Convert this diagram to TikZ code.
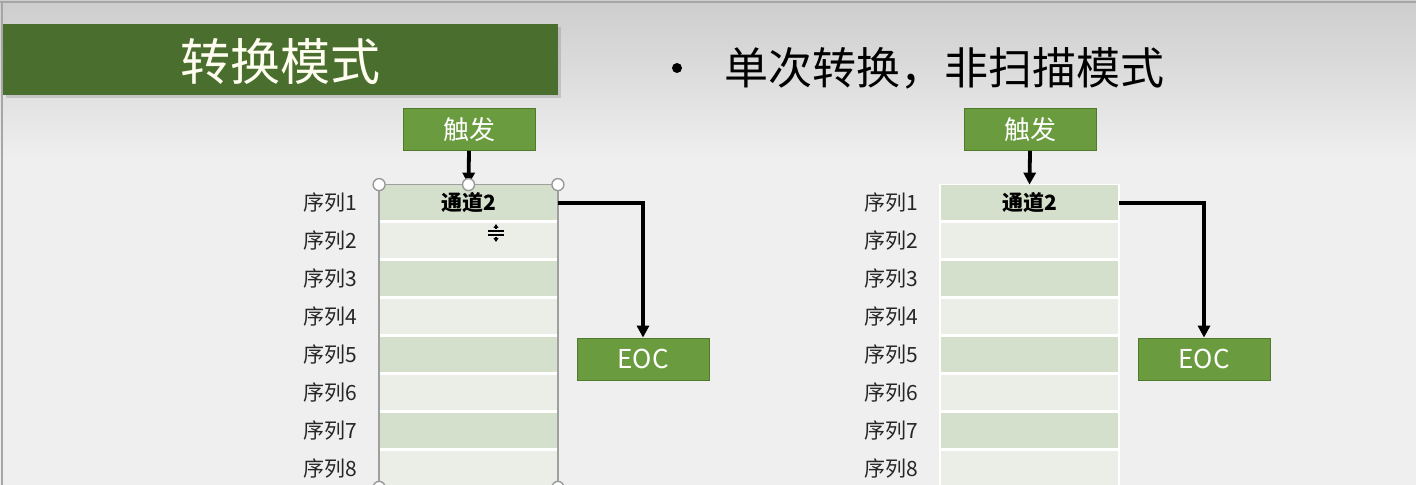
\documentclass[tikz,border=0pt]{standalone}
\usepackage{fontspec}
\setmainfont{Noto Sans CJK SC}
\usetikzlibrary{positioning,arrows.meta,shadows}

\definecolor{titlegreen}{HTML}{4A6E2E}
\definecolor{boxgreen}{HTML}{6A9B3F}
\definecolor{boxedge}{HTML}{4F7A2C}
\definecolor{rowdark}{HTML}{D4DFCC}
\definecolor{rowlight}{HTML}{EAEEE7}
\definecolor{bggray}{HTML}{EFEFEF}
\definecolor{topgray}{HTML}{CDCDCD}

\tikzset{
  greenbox/.style={draw=boxedge, fill=boxgreen, text=white, minimum width=66pt,
    minimum height=21pt, inner sep=0pt, font=\fontsize{13}{13}\selectfont},
  rowcell/.style={minimum width=89pt, minimum height=18pt, inner sep=0pt},
  seqlabel/.style={inner sep=0pt, text=black!85, font=\fontsize{10.5}{10.5}\selectfont},
  flowarrow/.style={line width=1.9pt, -{Triangle[length=6pt,width=6pt]}},
  handle/.style={draw=gray!80, fill=white, line width=0.7pt}
}

\begin{document}
\begin{tikzpicture}[x=0.5pt, y=-0.5pt]

    % Background
    \useasboundingbox (0,0) rectangle (1416,485);
    \clip (0,0) rectangle (1416,485);
    \fill[bggray] (0,0) rectangle (1416,485);
    \shade[top color=topgray, bottom color=bggray] (0,0) rectangle (1416,160);
    \draw[gray!70, line width=1pt] (0,2) -- (1416,2);
    \draw[gray!70, line width=1pt] (2,2) -- (2,485);

    % Title
    \node[fill=titlegreen, minimum width=277.5pt, minimum height=35.5pt, inner sep=0pt,
      drop shadow={shadow xshift=1.5pt, shadow yshift=-1.5pt, opacity=0.3}] (title) at (280.5,59.5) {};
    \node[text=white!94!yellow, font=\fontsize{25}{25}\selectfont] (titletext) at (280,62) {转换模式};

    % Heading
    \node[circle, fill=black, minimum size=5pt, inner sep=0pt] (bullet) at (677,68) {};
    \node[font=\fontsize{22}{22}\selectfont, anchor=west] (heading) at (717,68) {单次转换，非扫描模式};

    % Left sequence table
    \foreach \i/\c in {1/rowdark,2/rowlight,3/rowdark,4/rowlight,5/rowdark,6/rowlight,7/rowdark,8/rowlight} {
        \node[rowcell, fill=\c] (l\i) at (468.5,{203+38*(\i-1)}) {};
        \node[seqlabel, left=11pt of l\i] (ls\i) {序列\i};
    }
    \foreach \i in {1,...,7}
        \draw[white, line width=1.2pt] (l\i.south west) -- (l\i.south east);
    \draw[gray!75, line width=0.7pt] (l1.north west) rectangle (l8.south east);
    \node[font=\fontsize{10.5}{10.5}\selectfont\bfseries] (ch1) at (l1) {通道2};

    \node[greenbox] (trigL) at (469,129.5) {触发};
    \node[greenbox] (eocL) at (643,359) {EOC};
    \draw[flowarrow] (trigL.south) -- (l1.north);
    \draw[flowarrow] (l1.east) -| (eocL.north);

    % Selection handles and cursor
    \foreach \p in {l1.north west, l1.north, l1.north east, l8.south west, l8.south east}
        \draw[handle] (\p) circle (3pt);
    \draw[line width=0.6pt] (488,231) -- (504,231) (488,235) -- (504,235);
    \draw[line width=0.6pt, -{Triangle[length=2pt,width=2.5pt]}] (496,229) -- (496,224);
    \draw[line width=0.6pt, -{Triangle[length=2pt,width=2.5pt]}] (496,237) -- (496,242);

    % Right sequence table
    \foreach \i/\c in {1/rowdark,2/rowlight,3/rowdark,4/rowlight,5/rowdark,6/rowlight,7/rowdark,8/rowlight} {
        \node[rowcell, fill=\c] (r\i) at (1029.5,{203+38*(\i-1)}) {};
        \node[seqlabel, left=11pt of r\i] (rs\i) {序列\i};
    }
    \foreach \i in {1,...,7}
        \draw[white, line width=1.2pt] (r\i.south west) -- (r\i.south east);
    \draw[white, line width=0.7pt] (r1.north west) rectangle (r8.south east);
    \node[font=\fontsize{10.5}{10.5}\selectfont\bfseries] (ch2) at (r1) {通道2};

    \node[greenbox] (trigR) at (1030,129.5) {触发};
    \node[greenbox] (eocR) at (1204,359) {EOC};
    \draw[flowarrow] (trigR.south) -- (r1.north);
    \draw[flowarrow] (r1.east) -| (eocR.north);

\end{tikzpicture}
\end{document}
